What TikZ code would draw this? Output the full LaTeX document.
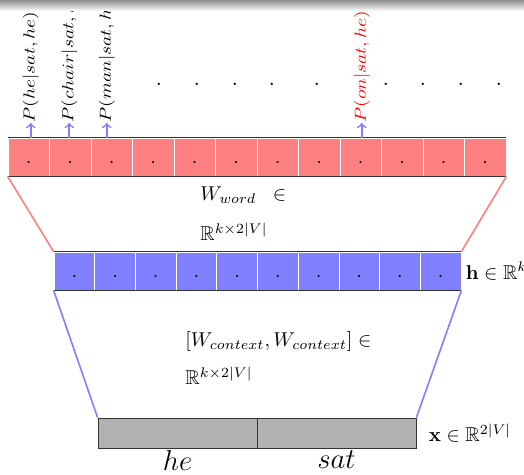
\documentclass[tikz,border=0pt]{standalone}
\usepackage{amsmath}
\usepackage{amssymb}
\usetikzlibrary{positioning}

\begin{document}
\begin{tikzpicture}[x=0.5pt,y=-0.5pt,
        outcell/.style={fill=red!50, draw=white, minimum width=20.75pt, minimum height=19pt,
            inner sep=0pt, text height=1.6ex, text depth=0pt},
        hidcell/.style={outcell, fill=blue!50, minimum width=20.35pt},
        incell/.style={fill=gray!60, draw=black!80, minimum width=79.5pt, minimum height=15pt, inner sep=0pt},
        plabel/.style={rotate=90, xscale=0.97, yscale=0.8, anchor=west, inner sep=0pt},
        probarrow/.style={->, blue!50, thick},
        maplabel/.style={align=left, anchor=west, inner sep=0pt}]
        \useasboundingbox (0,0) rectangle (524,475);

        % Output layer: one cell per word of the vocabulary
        \foreach \i in {1,...,12} {
            \pgfmathsetmacro\cx{8 + 41.5*(\i - 0.5)}
            \node[outcell] (o\i) at (\cx,157) {.};
        }
        \draw[black!80] (o1.north west) -- (o12.north east);
        \draw[black!80] (o1.south west) -- (o12.south east);

        % Hidden layer
        \foreach \i in {1,...,10} {
            \pgfmathsetmacro\cx{54 + 40.7*(\i - 0.5)}
            \node[hidcell] (h\i) at (\cx,271) {.};
        }
        \draw[black!80] (h1.north west) -- (h10.north east);
        \draw[black!80] (h1.south west) -- (h10.south east);

        % Input layer: the two context words side by side
        \node[incell] (xhe) at (177.5,433) {};
        \node[incell] (xsat) at (336.5,433) {};
        \node[below=1pt of xhe, inner sep=0pt, font=\Large] (whe) {$he$};
        \node[below=1pt of xsat, inner sep=0pt, font=\Large] (wsat) {$sat$};

        % Weights between the layers
        \draw[red!50, thick] (o1.south west) -- (h1.north west);
        \draw[red!50, thick] (o12.south east) -- (h10.north east);
        \draw[blue!50, thick] (h1.south west) -- (xhe.north west);
        \draw[blue!50, thick] (h10.south east) -- (xsat.north east);
        \node[maplabel] (wword) at (200,214) {$W_{word}\;\;\in$\\[8pt]$\mathbb{R}^{k\times 2|V|}$};
        \node[maplabel] (wctx) at (185,358) {$[W_{context},W_{context}]\in$\\[7pt]$\mathbb{R}^{k\times 2|V|}$};

        % Layer sizes
        \node[right=2pt of h10, inner sep=0pt] (hdim) {$\mathbf{h}\in\mathbb{R}^{k}$};
        \node[right=6pt of xsat, inner sep=0pt] (xdim) {$\mathbf{x}\in\mathbb{R}^{2|V|}$};

        % Probabilities read off the output cells
        \coordinate (p1) at ([xshift=1pt]o1.north |- 0,123);
        \coordinate (p2) at ([xshift=-0.5pt]o2.north |- 0,123);
        \coordinate (p3) at ([xshift=-2.5pt]o3.north |- 0,123);
        \coordinate (p9) at ([xshift=0.5pt]o9.north |- 0,123);
        \draw[probarrow] ([xshift=1pt]o1.north) -- (p1);
        \draw[probarrow] ([xshift=-0.5pt]o2.north) -- (p2);
        \draw[probarrow] ([xshift=-2.5pt]o3.north) -- (p3);
        \draw[probarrow] ([xshift=0.5pt]o9.north) -- (p9);
        \node[plabel] (l1) at (p1) {$P(he|sat,he)$};
        \node[plabel] (l2) at (p2) {$P(chair|sat,he)$};
        \node[plabel] (l3) at (p3) {$P(man|sat,he)$};
        \node[plabel, red] (l9) at (p9) {$P(on|sat,he)$};

        % Remaining words of the vocabulary
        \foreach \px [count=\i] in {159,197,235,272,317,386,423,461,499}
            \node[inner sep=0pt, font=\large] (d\i) at (\px,84) {.};

        % Shadow along the top edge
        \shade[top color=gray!90, bottom color=white] (0,0) rectangle (524,11);
    \end{tikzpicture}
\end{document}
